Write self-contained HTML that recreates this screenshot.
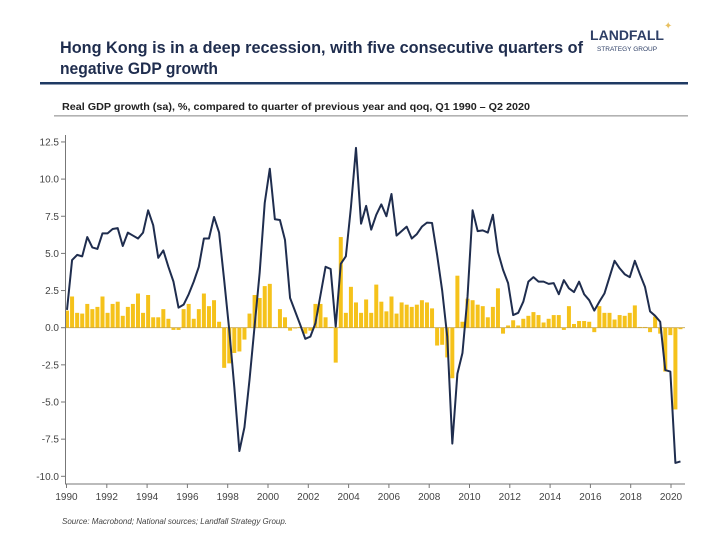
<!DOCTYPE html>
<html><head><meta charset="utf-8"><style>
body{margin:0;background:#fff;width:720px;height:540px;overflow:hidden;font-family:"Liberation Sans",sans-serif}
svg{position:absolute;left:0;top:0}
</style></head><body>
<svg width="720" height="540" id="chart">
<text x="60" y="53" font-size="17" font-weight="bold" fill="#1f2d4e" textLength="523" lengthAdjust="spacingAndGlyphs">Hong Kong is in a deep recession, with five consecutive quarters of</text>
<text x="60" y="74" font-size="17" font-weight="bold" fill="#1f2d4e" textLength="158" lengthAdjust="spacingAndGlyphs">negative GDP growth</text>
<text x="627" y="40" font-size="14" font-weight="bold" fill="#2e3f66" text-anchor="middle">LANDFALL</text>
<text x="627" y="51" font-size="6.5" fill="#2e3f66" text-anchor="middle">STRATEGY GROUP</text>
<text x="664" y="29" font-size="10" fill="#e8c060">✦</text>
<rect x="40" y="82" width="648" height="2.5" fill="#1f3a63"/>
<text x="62" y="110" font-size="10.5" font-weight="bold" fill="#222" textLength="468" lengthAdjust="spacingAndGlyphs">Real GDP growth (sa), %, compared to quarter of previous year and qoq, Q1 1990 – Q2 2020</text>
<rect x="54" y="115.5" width="634" height="0.8" fill="#666"/>
<g id="plot"></g>
<text x="62" y="524" font-size="8" font-style="italic" fill="#444">Source: Macrobond;  National sources; Landfall Strategy Group.</text>
</svg>
<script>
const yTicks=[12.5,10.0,7.5,5.0,2.5,0.0,-2.5,-5.0,-7.5,-10.0];
const xTickYears=[1990,1992,1994,1996,1998,2000,2002,2004,2006,2008,2010,2012,2014,2016,2018,2020];
const yoy=[1.2,4.55,4.9,4.8,6.1,5.4,5.3,6.35,6.35,6.64,6.7,5.5,6.4,6.2,6.0,6.4,7.9,6.9,4.7,5.2,4.1,3.1,1.35,1.55,2.25,3.1,4.1,6.0,6.0,7.45,6.4,3.2,-0.15,-4.0,-8.3,-6.7,-3.5,0.1,3.7,8.4,10.7,7.3,
7.25,5.9,2.0,1.1,0.2,-0.75,-0.6,0.3,2.2,4.1,3.95,0.07,4.3,4.8,8.1,12.1,7.0,8.2,6.6,7.6,8.3,7.5,9.0,6.2,6.5,6.8,6.0,6.3,6.8,7.07,7.05,4.9,2.5,-0.6,-7.8,-3.1,-1.7,2.1,7.9,6.5,
6.55,6.4,7.6,5.1,3.9,3.0,0.85,1.0,1.75,3.1,3.4,3.1,3.1,2.95,3.0,2.25,3.2,2.65,2.4,3.1,2.25,1.85,1.15,1.75,2.3,3.4,4.5,4.0,3.6,3.4,4.5,3.6,2.75,1.1,0.8,0.4,-2.85,-2.95,-9.1,-9.0];
const qoq=[1.15,2.1,1.0,0.95,1.6,1.25,1.4,2.1,1.0,1.6,1.75,0.8,1.4,1.6,2.3,1.0,2.2,0.7,0.7,1.25,0.6,-0.15,-0.15,1.25,1.6,0.6,1.25,2.3,1.45,1.85,0.4,-2.7,-2.4,-1.7,-1.6,-0.8,0.95,2.2,2.0,2.8,2.95,
0.05,1.25,0.7,-0.2,-0.05,0.05,-0.4,-0.2,1.6,1.6,0.7,0.05,-2.35,6.1,1.0,2.75,1.7,1.0,1.9,1.0,2.9,1.75,1.1,2.1,0.95,1.7,1.55,1.4,1.55,1.85,1.7,1.3,-1.2,-1.15,-2.0,-3.4,3.5,0.4,1.95,
1.85,1.55,1.45,0.7,1.4,2.65,-0.4,0.15,0.5,0.15,0.6,0.8,1.05,0.85,0.35,0.6,0.85,0.85,-0.15,1.45,0.25,0.45,0.45,0.4,-0.3,1.45,1.0,1.0,0.55,0.85,0.8,1.0,1.5,0.05,0.05,-0.3,0.75,-0.4,-2.95,-0.5,-5.5,-0.1];

const NS='http://www.w3.org/2000/svg';
const g=document.getElementById('plot');
const y=v=>327.7-v*14.86;
const xq=i=>67+i*5.07;
const xy=yr=>66.5+(yr-1990)*20.15;
function mk(t,a){const e=document.createElementNS(NS,t);for(const k in a)e.setAttribute(k,a[k]);g.appendChild(e);return e;}

qoq.forEach((v,i)=>{
  const r=mk('rect',{x:xq(i)-2,y:Math.min(y(v),y(0)),width:4,height:Math.max(0.6,Math.abs(y(v)-y(0))),fill:'#f5c21b'});
  
  
});
const zl=mk('line',{x1:65,x2:685,y1:y(0),y2:y(0),stroke:'#c9a64a','stroke-width':0.8});


const pl=mk('polyline',{points:yoy.map((v,i)=>xq(i)+','+y(v)).join(' '),fill:'none',stroke:'#1f2d4e','stroke-width':2,'stroke-linejoin':'round'});



const ya=mk('line',{x1:65.5,x2:65.5,y1:135,y2:484,stroke:'#777','stroke-width':1});


const xa=mk('line',{x1:65,x2:685,y1:484,y2:484,stroke:'#777','stroke-width':1});


yTicks.forEach(v=>{
  const t=mk('line',{x1:61,x2:65.5,y1:y(v),y2:y(v),stroke:'#777'});
  
  
  const l=mk('text',{x:59,y:y(v)+3.5,'font-size':10,fill:'#444','text-anchor':'end'});
  l.textContent=v.toFixed(1);
  
  
});
xTickYears.forEach(yr=>{
  const t=mk('line',{x1:xy(yr),x2:xy(yr),y1:484,y2:488,stroke:'#777'});
  
  
  const l=mk('text',{x:xy(yr),y:500,'font-size':10,fill:'#444','text-anchor':'middle'});
  l.textContent=yr;
  
  
});
</script>
</body></html>
